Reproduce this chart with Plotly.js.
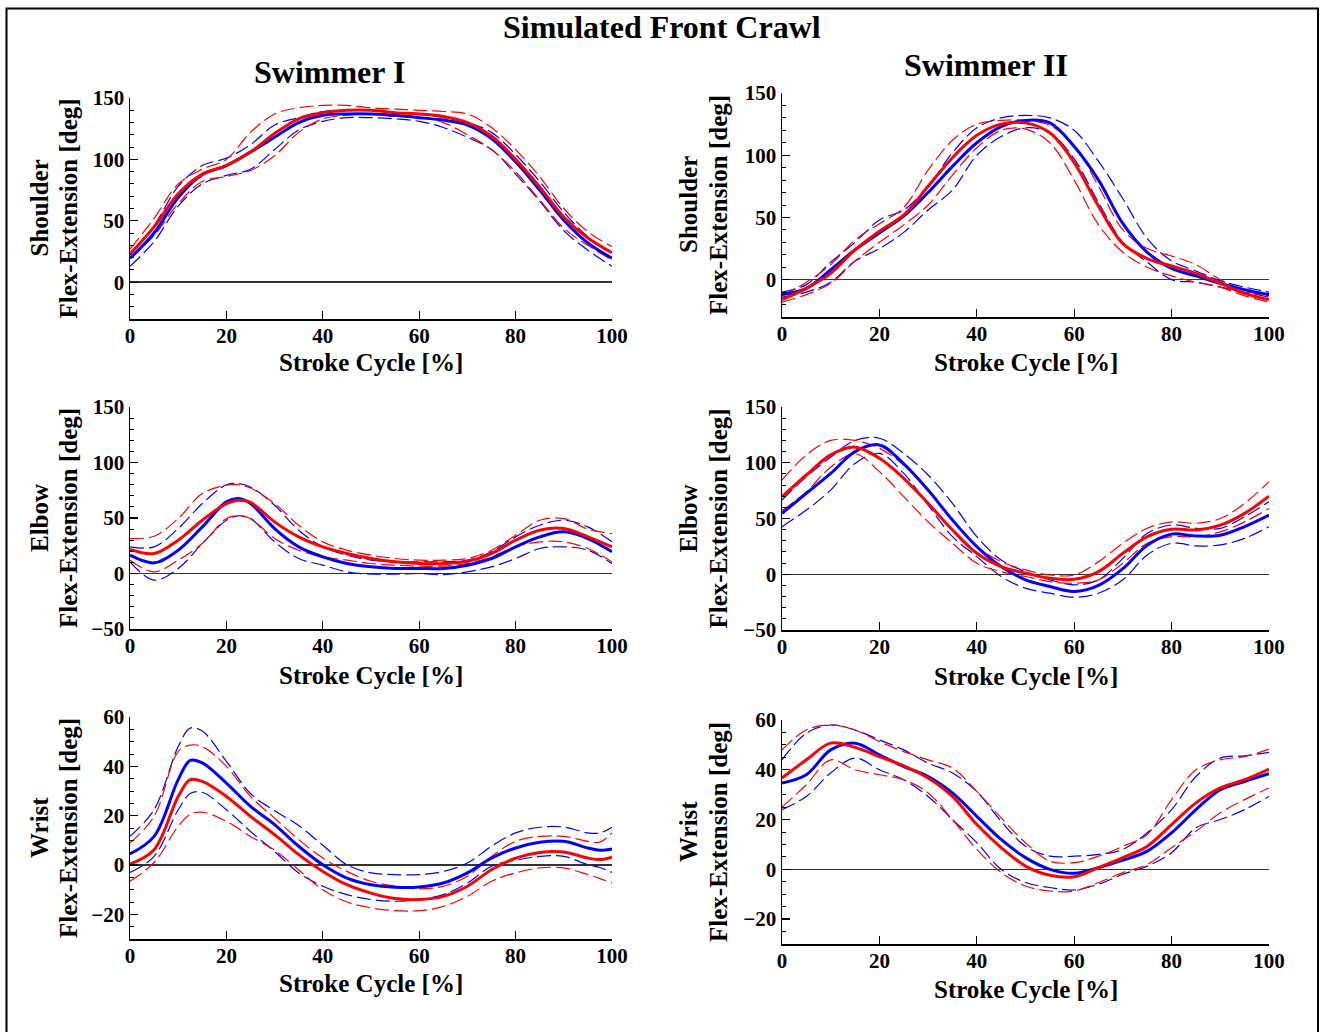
<!DOCTYPE html>
<html>
<head>
<meta charset="utf-8">
<script src="https://cdn.plot.ly/plotly-3.0.1.min.js"></script>
<style>html,body{margin:0;padding:0;background:#fff;}#chart{width:1321px;height:1032px;}</style>
</head>
<body>
<div id="chart"></div>
<script>
// ---------- DATA ----------
// Shoulder, Swimmer I
const shoulderIx = [0,5,10,15,20,25,30,35,40,45,50,55,60,65,70,75,80,85,90,95,100];
const shoulderIBlueMean = [19.5,40,69,87.5,95,106,118,130,136,137,137,136,134,132,128,117,98,75,50.5,32,19.5];
const shoulderIBlueHi   = [22,46,78,95,101,112,128,134,139,140,140,138,137,134,130,122,104,82,57,37,24];
const shoulderIBlueLo   = [13,33,62,80,87,92,108,124,131,134,134,133,131,126,118,108,88,66,42,26,13];
const shoulderIRedMean  = [23,45,72,88,95,106,121,133,138,140,140,138,137,135,130,119,100,77.5,53,36,24];
const shoulderIRedHi    = [27,52,80,92,100,122,137,142,144,144,142,141,140,139,137,126,108,86,60,41,29];
const shoulderIRedLo    = [19,38,64,82,86,91,103,122,133,136,137,135,134,130,120,108,90,67,44,30,18];

// Shoulder, Swimmer II
const shoulderIIx = [0,5,10,15,20,25,30,35,40,45,50,55,60,65,70,75,80,85,90,95,100];
const shoulderIIBlueMean = [-12,-7,8,24,37.5,51,70,91,110,123,128,126,107,80,45,22,9,3,-3,-8,-12];
const shoulderIIBlueHi   = [-10,-4,14,30,48,56,75,102,122,130,132,130,120,95,65,33,15,7,-1,-6,-10];
const shoulderIIBlueLo   = [-14,-10,-2,15,25,38,56,72,100,115,122,118,97,62,30,14,0,-2,-6,-10,-14];
const shoulderIIRedMean  = [-16,-7,5,24,39,52,75,98,116,125,126,118,94,59,29,17,11,5,-3,-11,-16];
const shoulderIIRedHi    = [-13,-2,12,32,45,58,88,112,125,128,128,124,108,75,40,25,19,12,0,-9,-13];
const shoulderIIRedLo    = [-18,-12,-3,15,30,44,60,84,106,120,121,110,80,44,22,10,3,-2,-6,-13,-18];

// Elbow, Swimmer I
const elbowIx = [0,5,10,15,20,22.5,25,30,35,40,45,50,55,60,65,70,75,80,85,90,95,100];
const elbowIBlueMean = [16.5,9.6,21,42,64.5,67.5,63,40.5,24,15,9,6,4.5,4.5,4.5,7.5,13.5,24,33,37.5,31.5,19.5];
const elbowIBlueHi   = [24,24,40.5,63,80,81,78,61.5,39,24,16.5,12,10.5,10.5,10.5,12,19.5,33,43.5,48,42,28.5];
const elbowIBlueLo   = [10.5,-6,4.5,27,48,52,49.5,28.5,13.5,7.5,1.5,-0.5,-0.5,0,-1,1.5,6,13.5,22.5,24,21,9];
const elbowIRedMean  = [21.6,18,30,48,63,66,64,46.5,33,24,18,13.5,10.5,9,9,11,18,30,39,40.5,33,24];
const elbowIRedHi    = [31.5,33.6,49.5,72,79.5,80,77,63,43.5,28.5,21,16.5,13.5,12,12,13.5,21,34.5,48,49.5,40,36];
const elbowIRedLo    = [12,1.5,12,27,49.5,52,49.5,31.5,21,15,12,9,7.5,6.6,6.6,9,15,24,28.5,28.5,22.5,10.5];

// Elbow, Swimmer II
const elbowIIx = [0,5,10,15,20,25,30,35,40,45,50,55,60,65,70,75,80,85,90,95,100];
const elbowIIBlueMean = [54.6,72.5,90.4,110,116,99,75.5,48.6,24.8,6.9,-5,-11,-15.5,-10,5,26,36,34.3,35,42.7,53];
const elbowIIBlueHi   = [66.6,87.5,105,120,122,108.4,89,63.6,33.7,12.8,2.4,-5,-9.5,-5,14.3,36.7,44.2,41.2,41.2,51.6,65];
const elbowIIBlueLo   = [42.7,57.6,75.5,99.4,108.4,90.4,62,33.7,15.8,-2,-12.5,-17,-20.6,-17,-5,17.3,27.8,25.4,26.3,32.2,42.7];
const elbowIIRedMean  = [69.5,89,107,114,104,86,63.6,39.7,18.8,6.9,1,-3.6,-4.5,2.4,18.8,33.7,40.3,39.7,44,54.6,70];
const elbowIIRedHi    = [84.5,107,120,120,113,98,75.5,48.6,24.8,11.3,3.9,-0.6,-0.6,11.3,27.8,41.2,47,45.7,50,63.6,83];
const elbowIIRedLo    = [57,74,96,108,92,69.6,47,27.8,9.9,2.4,-2,-6.6,-8,-5,9.9,27.8,33.7,33.7,38,47,59];

// Wrist, Swimmer I
const wristIx = [0,5,10,12.5,15,20,25,30,35,40,45,50,55,60,65,70,75,80,85,90,95,97.5,100];
const wristIBlueMean = [4.5,11.6,34.6,42.4,41.4,33.2,23.8,16.4,7.6,0.1,-5.3,-8,-9,-8.9,-7.3,-3.2,2.8,6.9,9.2,9.6,6.9,6,6.5];
const wristIBlueHi   = [11.6,22.4,48,55.5,54.3,42,29,22,16,8,0.1,-3.2,-3.9,-3.9,-2.6,0.8,7.6,13,15.3,15.4,13,13,15.3];
const wristIBlueLo   = [-3,3.5,22.4,29,29.5,22.4,13.6,5.5,-3.2,-8.6,-12,-14,-14.7,-14,-12,-7.3,-0.5,1.9,3.5,3.5,0.1,-1,-3];
const wristIRedMean  = [0.4,6.2,27.8,34.6,33.9,27.8,19.7,12.3,4.2,-2.6,-8,-11.4,-13.6,-14,-12.7,-8.6,-1.9,2.8,5.1,5.3,2.8,2.2,3.2];
const wristIRedHi    = [8.9,19.7,46,48.6,48,40,27.8,19,10.3,2.8,-2.6,-6.6,-8.6,-9.7,-8.6,-4.6,3.5,9.6,11.6,11.6,9.6,9.3,13];
const wristIRedLo    = [-6.6,1,15.7,20.5,21.4,17.7,11.6,6,-2,-10,-15,-17.4,-18.5,-18.5,-16.8,-12.7,-6.6,-3.2,-1.2,-1.2,-3.9,-5.5,-7.3];

// Wrist, Swimmer II
const wristIIx = [0,5,10,15,20,25,30,35,40,45,50,55,60,65,70,75,80,85,90,95,100];
const wristIIBlueMean = [34.7,38,48,50.7,46,41.3,37.3,30.7,21.3,12,4.7,0,-1.6,0.7,3.7,7.3,14.7,24,32,35.3,38.4];
const wristIIBlueHi   = [44,54.7,58,56,52,48,42.7,38.7,31.3,19.3,9.3,5.3,5.3,6,8,14.7,24,37.3,44.7,45.6,47];
const wristIIBlueLo   = [24,29.3,38.7,44.7,40,36,29.3,20,10.7,0,-5.3,-7.3,-8.3,-6,-2,1.3,6.7,16.7,20,24,29.3];
const wristIIRedMean  = [36.7,44,50.7,49,45.3,41.6,36.7,29.3,18,8.7,1.3,-2.4,-3,0.7,4.7,9.3,18,26.7,32.7,36,40.3];
const wristIIRedHi    = [48,56,58,56,51.3,47.3,44,40.7,31.3,20.7,10.7,3.3,2.7,5.3,9.3,14,28,40,44,45.3,48.3];
const wristIIRedLo    = [25,34,44,40,38,36,30.7,20,8,-1.3,-6.7,-8.7,-8.7,-5.3,-1.3,2,8.7,15.3,22.7,28,32.7];

const mainTitle = "Simulated Front Crawl";
const swimmerTitles = ["Swimmer I", "Swimmer II"];
const jointNames = ["Shoulder", "Elbow", "Wrist"];
const yAxisLabel = "Flex-Extension [deg]";
const xAxisLabel = "Stroke Cycle [%]";

// ---------- LAYOUT HELPERS ----------
const W = 1321, H = 1032;
const px = v => v / W;
const py = v => 1 - v / H;
const FONT = "Liberation Serif, 'Times New Roman', Times, serif";
const BLUE = "#0000ff", RED = "#ff0000";

const panels = [
  {x: shoulderIx, bm: shoulderIBlueMean, bh: shoulderIBlueHi, bl: shoulderIBlueLo, rm: shoulderIRedMean, rh: shoulderIRedHi, rl: shoulderIRedLo,
   xd: [130, 612], yd: [98, 319], yr: [-30, 150], dt: 50, mdt: 10, joint: 0, jx: 39, fx: 68, xt: 363},
  {x: shoulderIIx, bm: shoulderIIBlueMean, bh: shoulderIIBlueHi, bl: shoulderIIBlueLo, rm: shoulderIIRedMean, rh: shoulderIIRedHi, rl: shoulderIIRedLo,
   xd: [782, 1269], yd: [93, 317], yr: [-30, 150], dt: 50, mdt: 10, joint: 0, jx: 688, fx: 718, xt: 363},
  {x: elbowIx, bm: elbowIBlueMean, bh: elbowIBlueHi, bl: elbowIBlueLo, rm: elbowIRedMean, rh: elbowIRedHi, rl: elbowIRedLo,
   xd: [130, 612], yd: [407, 629], yr: [-50, 150], dt: 50, mdt: 10, joint: 1, jx: 39, fx: 68, xt: 675},
  {x: elbowIIx, bm: elbowIIBlueMean, bh: elbowIIBlueHi, bl: elbowIIBlueLo, rm: elbowIIRedMean, rh: elbowIIRedHi, rl: elbowIIRedLo,
   xd: [782, 1269], yd: [407, 630], yr: [-50, 150], dt: 50, mdt: 10, joint: 1, jx: 688, fx: 718, xt: 676},
  {x: wristIx, bm: wristIBlueMean, bh: wristIBlueHi, bl: wristIBlueLo, rm: wristIRedMean, rh: wristIRedHi, rl: wristIRedLo,
   xd: [130, 612], yd: [717, 939], yr: [-30, 60], dt: 20, mdt: 5, joint: 2, jx: 39, fx: 68, xt: 983},
  {x: wristIIx, bm: wristIIBlueMean, bh: wristIIBlueHi, bl: wristIIBlueLo, rm: wristIIRedMean, rh: wristIIRedHi, rl: wristIIRedLo,
   xd: [782, 1269], yd: [720, 944], yr: [-30, 60], dt: 20, mdt: 5, joint: 2, jx: 688, fx: 718, xt: 989}
];

const traces = [];
const layout = {
  width: W, height: H,
  margin: {l: 0, r: 0, t: 0, b: 0},
  paper_bgcolor: "#fff", plot_bgcolor: "#fff",
  showlegend: false,
  font: {family: FONT, color: "#000"},
  annotations: [], shapes: []
};

panels.forEach((p, i) => {
  const n = i + 1;
  const xa = "x" + (n === 1 ? "" : n), ya = "y" + (n === 1 ? "" : n);
  const dash = {width: 1.2, dash: "14px,5px", shape: "spline", smoothing: 1};
  const solid = {width: 3, shape: "spline", smoothing: 1};
  const add = (y, color, st) => traces.push({
    type: "scatter", mode: "lines", x: p.x, y: y, xaxis: xa, yaxis: ya,
    line: Object.assign({color: color}, st), hoverinfo: "skip"
  });
  add(p.bh, BLUE, dash); add(p.bl, BLUE, dash);
  add(p.rh, RED, dash); add(p.rl, RED, dash);
  add(p.bm, BLUE, solid); add(p.rm, RED, solid);

  const tickfont = {family: FONT, size: 21, weight: 700, color: "#000"};
  layout["xaxis" + (n === 1 ? "" : n)] = {
    domain: [px(p.xd[0]), px(p.xd[1])], anchor: ya, range: [0, 100],
    dtick: 20, tick0: 0, ticks: "inside", ticklen: 8, tickwidth: 1.3, tickcolor: "#000",
    ticklabelstandoff: -3,
    showline: true, linecolor: "#000", linewidth: 1.5, mirror: false,
    showgrid: false, zeroline: false, tickfont: tickfont, fixedrange: true
  };
  layout["yaxis" + (n === 1 ? "" : n)] = {
    domain: [py(p.yd[1]), py(p.yd[0])], anchor: xa, range: p.yr,
    dtick: p.dt, tick0: 0, ticks: "inside", ticklen: 8, tickwidth: 1.3, tickcolor: "#000",
    minor: {dtick: p.mdt, ticks: "inside", ticklen: 4, tickcolor: "#000", tickwidth: 1},
    showline: true, linecolor: "#000", linewidth: 1.5, mirror: false,
    showgrid: false, zeroline: true, zerolinecolor: "#333", zerolinewidth: 1.5,
    tickfont: tickfont, fixedrange: true
  };
  const yc = py((p.yd[0] + p.yd[1]) / 2);
  const xc = px((p.xd[0] + p.xd[1]) / 2);
  const tf = {family: FONT, size: 25, weight: 700, color: "#000"};
  layout.annotations.push(
    {xref: "paper", yref: "paper", x: px(p.jx), y: yc, text: jointNames[p.joint], textangle: -90,
     showarrow: false, xanchor: "center", yanchor: "middle", font: tf},
    {xref: "paper", yref: "paper", x: px(p.fx), y: yc, text: yAxisLabel, textangle: -90,
     showarrow: false, xanchor: "center", yanchor: "middle", font: tf},
    {xref: "paper", yref: "paper", x: xc, y: py(p.xt), text: xAxisLabel,
     showarrow: false, xanchor: "center", yanchor: "middle", font: tf}
  );
});

const titleFont = {family: FONT, size: 32, weight: 700, color: "#000"};
layout.annotations.push(
  {xref: "paper", yref: "paper", x: px(662), y: py(27), text: mainTitle, showarrow: false, xanchor: "center", yanchor: "middle", font: titleFont},
  {xref: "paper", yref: "paper", x: px(329), y: py(72), text: swimmerTitles[0], showarrow: false, xanchor: "center", yanchor: "middle", font: titleFont},
  {xref: "paper", yref: "paper", x: px(986), y: py(65), text: swimmerTitles[1], showarrow: false, xanchor: "center", yanchor: "middle", font: titleFont}
);
layout.shapes.push({type: "rect", xref: "paper", yref: "paper", x0: px(6.5), x1: px(1318), y0: -0.01, y1: py(8.5),
  line: {color: "#000", width: 2}, fillcolor: "rgba(0,0,0,0)"});

Plotly.newPlot("chart", traces, layout, {displayModeBar: false, staticPlot: true});
</script>
</body>
</html>
